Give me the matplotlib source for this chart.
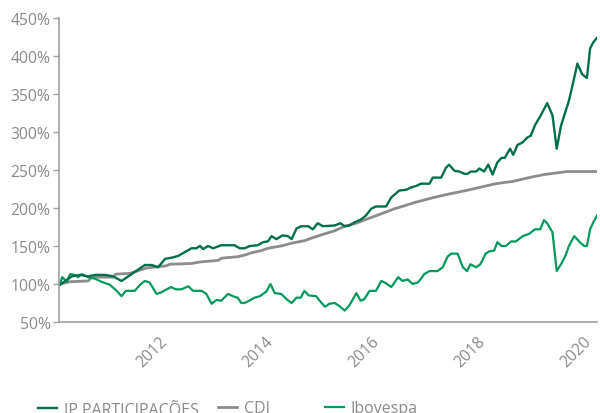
import matplotlib
matplotlib.use("Agg")
import matplotlib.pyplot as plt
from matplotlib.ticker import FuncFormatter

plt.rcParams['font.family'] = ['Open Sans', 'DejaVu Sans']

# decimal years, values in % (base 100)
ip_year = [2009.92, 2009.98, 2010.14, 2010.30, 2010.45, 2010.58, 2010.77, 2010.92,
           2011.08, 2011.27, 2011.52, 2011.65, 2011.77, 2011.90, 2012.05, 2012.15,
           2012.40, 2012.49, 2012.56, 2012.62, 2012.71, 2012.81, 2012.96, 2013.21,
           2013.31, 2013.40, 2013.50, 2013.65, 2013.75, 2013.84, 2013.91, 2014.00,
           2014.12, 2014.22, 2014.29, 2014.38, 2014.47, 2014.60, 2014.69, 2014.78,
           2014.88, 2015.10, 2015.21, 2015.29, 2015.38, 2015.47, 2015.60, 2015.69,
           2015.79, 2015.88, 2016.07, 2016.17, 2016.32, 2016.45, 2016.54, 2016.64,
           2016.73, 2016.89, 2016.95, 2017.11, 2017.20, 2017.26, 2017.36, 2017.45,
           2017.55, 2017.61, 2017.67, 2017.77, 2017.83, 2017.92, 2018.00, 2018.08,
           2018.17, 2018.25, 2018.31, 2018.41, 2018.47, 2018.55, 2018.64, 2018.74,
           2018.80, 2018.88, 2018.99, 2019.11, 2019.21, 2019.29, 2019.37, 2019.46,
           2019.52, 2019.60, 2019.68, 2019.77, 2019.86, 2019.92, 2019.98, 2020.05]
ip_val = [99, 102, 110, 112, 110, 112, 112, 110,
          104, 113, 125, 125, 122, 133, 135, 137,
          147, 147, 150, 146, 150, 147, 151, 151,
          147, 147, 150, 151, 155, 156, 163, 159,
          164, 163, 159, 173, 176, 176, 172, 180,
          176, 177, 180, 176, 177, 181, 185, 190,
          199, 202, 202, 214, 223, 224, 227, 229,
          232, 232, 240, 240, 253, 257, 249, 248,
          245, 245, 248, 248, 252, 248, 257, 244,
          260, 266, 266, 278, 270, 283, 286, 293,
          295, 309, 322, 338, 322, 278, 308, 328,
          341, 365, 390, 376, 371, 410, 418, 424]

cdi_year = [2009.92, 2010.11, 2010.45, 2010.52, 2010.92, 2010.97, 2011.24, 2011.55,
            2011.93, 2011.99, 2012.40, 2012.56, 2012.90, 2012.97, 2013.28, 2013.40,
            2013.53, 2013.72, 2013.84, 2014.09, 2014.31, 2014.53, 2014.69, 2014.91,
            2015.10, 2015.29, 2015.51, 2015.69, 2015.85, 2016.04, 2016.23, 2016.42,
            2016.60, 2016.76, 2016.98, 2017.23, 2017.58, 2017.83, 2018.14, 2018.46,
            2018.77, 2019.05, 2019.49, 2020.05]
cdi_val = [100, 103, 104, 109, 109, 113, 114, 121,
           124, 126, 127, 129, 131, 134, 136, 138,
           141, 144, 147, 150, 154, 157, 161, 166,
           170, 176, 180, 185, 189, 194, 199, 203,
           207, 210, 214, 218, 223, 227, 232, 235,
           240, 244, 248, 248]

ibov_year = [2009.92, 2009.96, 2010.05, 2010.11, 2010.20, 2010.26, 2010.33, 2010.45,
             2010.58, 2010.70, 2010.86, 2010.99, 2011.08, 2011.16, 2011.33, 2011.43,
             2011.52, 2011.61, 2011.74, 2011.83, 2011.93, 2012.02, 2012.10, 2012.21,
             2012.34, 2012.43, 2012.59, 2012.68, 2012.78, 2012.87, 2012.96, 2013.09,
             2013.18, 2013.27, 2013.34, 2013.40, 2013.46, 2013.59, 2013.69, 2013.81,
             2013.89, 2013.97, 2014.09, 2014.21, 2014.29, 2014.38, 2014.46, 2014.53,
             2014.61, 2014.75, 2014.83, 2014.92, 2015.00, 2015.10, 2015.19, 2015.29,
             2015.38, 2015.51, 2015.59, 2015.66, 2015.76, 2015.88, 2015.98, 2016.07,
             2016.17, 2016.30, 2016.38, 2016.48, 2016.57, 2016.67, 2016.73, 2016.79,
             2016.89, 2017.04, 2017.14, 2017.23, 2017.30, 2017.42, 2017.52, 2017.60,
             2017.66, 2017.77, 2017.85, 2017.95, 2018.02, 2018.11, 2018.17, 2018.25,
             2018.33, 2018.43, 2018.52, 2018.65, 2018.77, 2018.88, 2018.98, 2019.05,
             2019.11, 2019.21, 2019.29, 2019.38, 2019.46, 2019.52, 2019.62, 2019.74,
             2019.81, 2019.86, 2019.92, 2019.98, 2020.05]
ibov_val = [100, 109, 103, 113, 112, 109, 113, 109,
            107, 103, 99, 91, 84, 91, 91, 99,
            104, 102, 87, 89, 93, 96, 93, 93,
            97, 91, 91, 87, 74, 79, 78, 87,
            84, 82, 75, 75, 77, 82, 84, 90,
            100, 88, 87, 79, 75, 82, 82, 91,
            85, 84, 77, 70, 74, 75, 71, 65,
            72, 88, 78, 80, 91, 91, 104, 101,
            96, 109, 104, 106, 100, 102, 107, 113,
            117, 117, 122, 136, 140, 140, 122, 117,
            126, 122, 126, 140, 143, 144, 155, 150,
            150, 156, 156, 163, 166, 172, 172, 184,
            180, 168, 117, 127, 138, 150, 163, 154,
            150, 150, 172, 181, 190]

years = [2012, 2014, 2016, 2018, 2020]
yticks = [50, 100, 150, 200, 250, 300, 350, 400, 450]

c_ip = '#00704a'
c_cdi = '#8c8c8c'
c_ibov = '#00995c'
c_text = '#8a8a8a'

fig = plt.figure(figsize=(6, 4.14), dpi=100)
ax = fig.add_axes([0.0983, 0.2198, 0.8967, 0.7343])

l_cdi, = ax.plot(cdi_year, cdi_val, color=c_cdi, lw=2.0, label='CDI')
l_ibov, = ax.plot(ibov_year, ibov_val, color=c_ibov, lw=1.6, label='Ibovespa')
l_ip, = ax.plot(ip_year, ip_val, color=c_ip, lw=1.7, label='IP PARTICIPAÇÕES')

ax.set_xlim(2009.90, 2020.05)
ax.set_ylim(50, 450)
ax.set_yticks(yticks)
ax.yaxis.set_major_formatter(FuncFormatter(lambda v, p: '%d%%' % v))
ax.set_xticks(years)
ax.set_xticklabels([str(y) for y in years], rotation=45, ha='right', va='top')

for s in ['top', 'right']:
    ax.spines[s].set_visible(False)
for s in ['left', 'bottom']:
    ax.spines[s].set_color('#a0a0a0')
    ax.spines[s].set_linewidth(1.2)
ax.tick_params(axis='y', colors='#a0a0a0', labelcolor=c_text, labelsize=11.3,
               length=4, width=1, pad=2)
ax.tick_params(axis='x', labelcolor=c_text, labelsize=11.3, length=0, pad=8)

# legend entries sit at uneven spacing in the reference, so one legend each
for line, xpos in [(l_ip, 0.063), (l_cdi, 0.363), (l_ibov, 0.541)]:
    fig.legend([line], [line.get_label()], loc='center left',
               bbox_to_anchor=(xpos, 0.011), frameon=False, fontsize=11.5,
               labelcolor=c_text, handlelength=1.2, handletextpad=0.45,
               borderpad=0, borderaxespad=0)

fig.savefig('out.png', dpi=100)
